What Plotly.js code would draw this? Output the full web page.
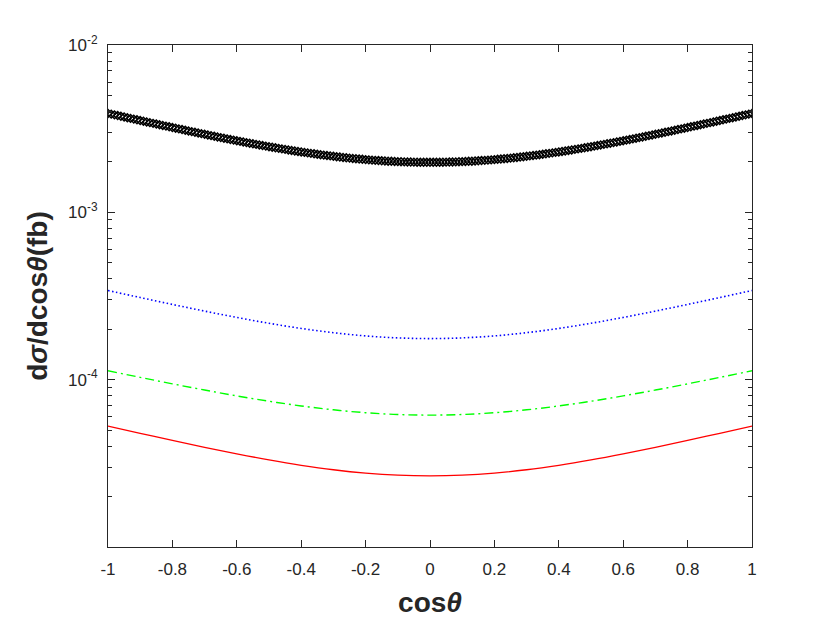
<!DOCTYPE html>
<html>
<head>
<meta charset="utf-8">
<script src="https://cdn.plot.ly/plotly-3.0.1.min.js"></script>
<style>html,body{margin:0;padding:0;background:#fff;}#plot{width:830px;height:623px;}</style>
</head>
<body>
<div id="plot"></div>
<script>
// cos(theta) sampling for the marker curve (step 0.01)
const xFine = [-1.00,-0.99,-0.98,-0.97,-0.96,-0.95,-0.94,-0.93,-0.92,-0.91,-0.90,-0.89,-0.88,-0.87,-0.86,-0.85,-0.84,-0.83,-0.82,-0.81,
-0.80,-0.79,-0.78,-0.77,-0.76,-0.75,-0.74,-0.73,-0.72,-0.71,-0.70,-0.69,-0.68,-0.67,-0.66,-0.65,-0.64,-0.63,-0.62,-0.61,
-0.60,-0.59,-0.58,-0.57,-0.56,-0.55,-0.54,-0.53,-0.52,-0.51,-0.50,-0.49,-0.48,-0.47,-0.46,-0.45,-0.44,-0.43,-0.42,-0.41,
-0.40,-0.39,-0.38,-0.37,-0.36,-0.35,-0.34,-0.33,-0.32,-0.31,-0.30,-0.29,-0.28,-0.27,-0.26,-0.25,-0.24,-0.23,-0.22,-0.21,
-0.20,-0.19,-0.18,-0.17,-0.16,-0.15,-0.14,-0.13,-0.12,-0.11,-0.10,-0.09,-0.08,-0.07,-0.06,-0.05,-0.04,-0.03,-0.02,-0.01,
0.00,0.01,0.02,0.03,0.04,0.05,0.06,0.07,0.08,0.09,0.10,0.11,0.12,0.13,0.14,0.15,0.16,0.17,0.18,0.19,
0.20,0.21,0.22,0.23,0.24,0.25,0.26,0.27,0.28,0.29,0.30,0.31,0.32,0.33,0.34,0.35,0.36,0.37,0.38,0.39,
0.40,0.41,0.42,0.43,0.44,0.45,0.46,0.47,0.48,0.49,0.50,0.51,0.52,0.53,0.54,0.55,0.56,0.57,0.58,0.59,
0.60,0.61,0.62,0.63,0.64,0.65,0.66,0.67,0.68,0.69,0.70,0.71,0.72,0.73,0.74,0.75,0.76,0.77,0.78,0.79,
0.80,0.81,0.82,0.83,0.84,0.85,0.86,0.87,0.88,0.89,0.90,0.91,0.92,0.93,0.94,0.95,0.96,0.97,0.98,0.99,1.00];
const blackVals = [3.900e-3,3.862e-3,3.825e-3,3.788e-3,3.751e-3,3.714e-3,3.678e-3,3.642e-3,3.607e-3,3.572e-3,
3.537e-3,3.503e-3,3.469e-3,3.436e-3,3.403e-3,3.370e-3,3.338e-3,3.306e-3,3.275e-3,3.243e-3,
3.213e-3,3.182e-3,3.152e-3,3.123e-3,3.093e-3,3.065e-3,3.036e-3,3.008e-3,2.980e-3,2.953e-3,
2.926e-3,2.900e-3,2.873e-3,2.848e-3,2.822e-3,2.797e-3,2.773e-3,2.748e-3,2.724e-3,2.701e-3,
2.678e-3,2.655e-3,2.633e-3,2.611e-3,2.589e-3,2.568e-3,2.547e-3,2.527e-3,2.507e-3,2.487e-3,
2.468e-3,2.449e-3,2.430e-3,2.412e-3,2.394e-3,2.377e-3,2.360e-3,2.343e-3,2.327e-3,2.311e-3,
2.296e-3,2.281e-3,2.266e-3,2.252e-3,2.238e-3,2.224e-3,2.211e-3,2.198e-3,2.186e-3,2.174e-3,
2.162e-3,2.151e-3,2.140e-3,2.129e-3,2.119e-3,2.109e-3,2.100e-3,2.091e-3,2.083e-3,2.074e-3,
2.066e-3,2.059e-3,2.052e-3,2.045e-3,2.039e-3,2.033e-3,2.027e-3,2.022e-3,2.018e-3,2.013e-3,
2.009e-3,2.006e-3,2.002e-3,1.999e-3,1.997e-3,1.995e-3,1.993e-3,1.992e-3,1.991e-3,1.990e-3,
1.990e-3,
1.990e-3,1.991e-3,1.992e-3,1.993e-3,1.995e-3,1.997e-3,1.999e-3,2.002e-3,2.006e-3,2.009e-3,
2.013e-3,2.018e-3,2.022e-3,2.027e-3,2.033e-3,2.039e-3,2.045e-3,2.052e-3,2.059e-3,2.066e-3,
2.074e-3,2.083e-3,2.091e-3,2.100e-3,2.109e-3,2.119e-3,2.129e-3,2.140e-3,2.151e-3,2.162e-3,
2.174e-3,2.186e-3,2.198e-3,2.211e-3,2.224e-3,2.238e-3,2.252e-3,2.266e-3,2.281e-3,2.296e-3,
2.311e-3,2.327e-3,2.343e-3,2.360e-3,2.377e-3,2.394e-3,2.412e-3,2.430e-3,2.449e-3,2.468e-3,
2.487e-3,2.507e-3,2.527e-3,2.547e-3,2.568e-3,2.589e-3,2.611e-3,2.633e-3,2.655e-3,2.678e-3,
2.701e-3,2.724e-3,2.748e-3,2.773e-3,2.797e-3,2.822e-3,2.848e-3,2.873e-3,2.900e-3,2.926e-3,
2.953e-3,2.980e-3,3.008e-3,3.036e-3,3.065e-3,3.093e-3,3.123e-3,3.152e-3,3.182e-3,3.213e-3,
3.243e-3,3.275e-3,3.306e-3,3.338e-3,3.370e-3,3.403e-3,3.436e-3,3.469e-3,3.503e-3,3.537e-3,
3.572e-3,3.607e-3,3.642e-3,3.678e-3,3.714e-3,3.751e-3,3.788e-3,3.825e-3,3.862e-3,3.900e-3];

// cos(theta) sampling for the line curves (step 0.1)
const xCoarse = [-1.0,-0.9,-0.8,-0.7,-0.6,-0.5,-0.4,-0.3,-0.2,-0.1,0.0,0.1,0.2,0.3,0.4,0.5,0.6,0.7,0.8,0.9,1.0];
const blueVals = [3.410e-4,3.097e-4,2.816e-4,2.569e-4,2.354e-4,2.173e-4,2.024e-4,1.909e-4,1.826e-4,1.777e-4,1.760e-4,1.777e-4,1.826e-4,1.909e-4,2.024e-4,2.173e-4,2.354e-4,2.569e-4,2.816e-4,3.097e-4,3.410e-4];
const greenVals = [1.130e-4,1.032e-4,9.442e-5,8.668e-5,7.998e-5,7.430e-5,6.966e-5,6.604e-5,6.346e-5,6.192e-5,6.140e-5,6.192e-5,6.346e-5,6.604e-5,6.966e-5,7.430e-5,7.998e-5,8.668e-5,9.442e-5,1.032e-4,1.130e-4];
const redVals = [5.280e-5,4.782e-5,4.337e-5,3.944e-5,3.603e-5,3.315e-5,3.079e-5,2.896e-5,2.765e-5,2.686e-5,2.660e-5,2.686e-5,2.765e-5,2.896e-5,3.079e-5,3.315e-5,3.603e-5,3.944e-5,4.337e-5,4.782e-5,5.280e-5];

// tick labels
const xTicks = [-1,-0.8,-0.6,-0.4,-0.2,0,0.2,0.4,0.6,0.8,1];
const xTickText = ['-1','-0.8','-0.6','-0.4','-0.2','0','0.2','0.4','0.6','0.8','1'];
const yTicks = [1e-4,1e-3,1e-2];
const yTickText = ['10<sup>-4</sup>','10<sup>-3</sup>','10<sup>-2</sup>'];
const yMinor = [2e-5,3e-5,4e-5,5e-5,6e-5,7e-5,8e-5,9e-5,2e-4,3e-4,4e-4,5e-4,6e-4,7e-4,8e-4,9e-4,2e-3,3e-3,4e-3,5e-3,6e-3,7e-3,8e-3,9e-3];

const axisColor = '#262626';
const fontFam = '"Liberation Sans", Arial, Helvetica, sans-serif';

const traces = [
  {x: xCoarse, y: redVals, mode: 'lines', line: {color: '#ff0000', width: 1.3, shape: 'spline'}, hoverinfo: 'skip'},
  {x: xCoarse, y: greenVals, mode: 'lines', line: {color: '#00ff00', width: 1.4, dash: '9px,4px,2px,4px', shape: 'spline'}, hoverinfo: 'skip'},
  {x: xCoarse, y: blueVals, mode: 'lines', line: {color: '#0000ff', width: 1.6, dash: '1.5px,2.5px', shape: 'spline'}, hoverinfo: 'skip'},
  {x: xFine, y: blackVals, mode: 'markers', marker: {symbol: 'diamond-open', size: 6, color: '#000000', line: {width: 1.5, color: '#000000'}}, hoverinfo: 'skip'}
];

const layout = {
  width: 830, height: 623,
  margin: {l: 108, r: 78, t: 45, b: 76, pad: 0},
  paper_bgcolor: '#ffffff', plot_bgcolor: '#ffffff',
  showlegend: false,
  font: {family: fontFam, color: axisColor, size: 17},
  xaxis: {
    range: [-1, 1], tickmode: 'array', tickvals: xTicks, ticktext: xTickText,
    ticks: 'inside', ticklen: 7, tickwidth: 1, tickcolor: axisColor,
    showline: true, linecolor: axisColor, linewidth: 1, mirror: 'ticks',
    showgrid: false, zeroline: false,
    tickfont: {family: fontFam, size: 17, color: axisColor},
    ticklabelstandoff: 7,
    title: {text: '<b>cos</b><b><i>θ</i></b>', font: {family: fontFam, size: 28, color: axisColor}, standoff: 13}
  },
  yaxis: {
    type: 'log', range: [-5, -2], tickmode: 'array', tickvals: yTicks, ticktext: yTickText,
    ticks: 'inside', ticklen: 7, tickwidth: 1, tickcolor: axisColor,
    minor: {tickmode: 'array', tickvals: yMinor, ticks: 'inside', ticklen: 4, tickwidth: 1, tickcolor: axisColor, showgrid: false},
    showline: true, linecolor: axisColor, linewidth: 1, mirror: 'ticks',
    showgrid: false, zeroline: false,
    tickfont: {family: fontFam, size: 17, color: axisColor},
    ticklabelstandoff: 6,
    title: {text: '<b>d</b><b><i>σ</i></b><b>/dcos</b><b><i>θ</i></b><b>(fb)</b>', font: {family: fontFam, size: 28, color: axisColor}, standoff: 12}
  }
};

Plotly.newPlot('plot', traces, layout, {staticPlot: true, displayModeBar: false});
</script>
</body>
</html>
